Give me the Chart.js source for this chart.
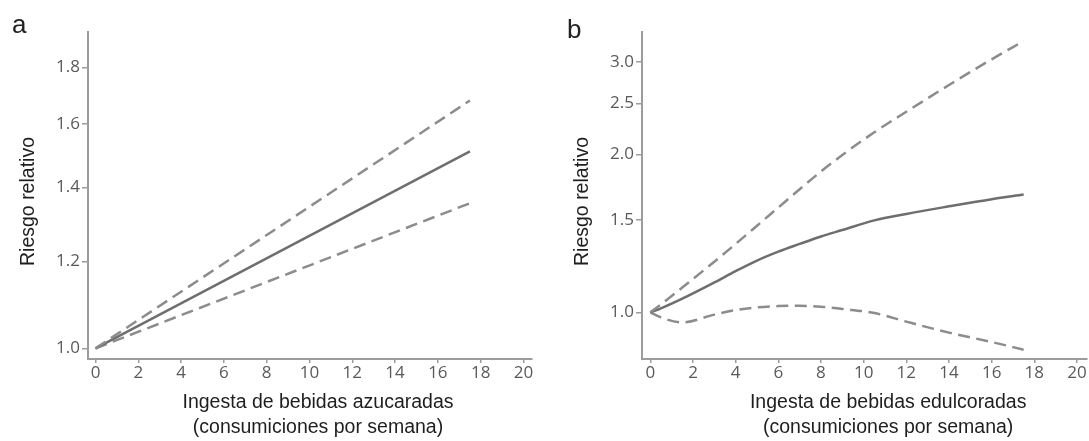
<!DOCTYPE html>
<html>
<head>
<meta charset="utf-8">
<script src="https://cdn.jsdelivr.net/npm/chart.js@4/dist/chart.umd.min.js"></script>
<style>
  html, body { margin: 0; padding: 0; background: #fff; }
  #wrap { position: relative; width: 1089px; height: 441px; overflow: hidden; }
  #chartA { position: absolute; left: 0; top: 0; }
  #chartB { position: absolute; left: 545px; top: 0; }
</style>
</head>
<body>
<div id="wrap">
  <canvas id="chartA" width="545" height="441"></canvas>
  <canvas id="chartB" width="544" height="441"></canvas>
</div>
<script>
// Datos - panel a (bebidas azucaradas)
const xA = [0, 17.5];
const rrA = [1.0, 1.51];
const upperA = [1.0, 1.68];
const lowerA = [1.0, 1.355];

// Datos - panel b (bebidas edulcoradas)
const xB = [0, 0.5, 1.5, 3, 4, 5, 6, 7, 8, 9, 10.5, 12, 14, 16, 17.5];
const rrB = [1.0, 1.018, 1.062, 1.14, 1.198, 1.255, 1.305, 1.35, 1.395, 1.435, 1.497, 1.54, 1.592, 1.643, 1.677];
const upperB = [1.0, 1.036, 1.115, 1.249, 1.35, 1.462, 1.584, 1.716, 1.855, 1.994, 2.203, 2.411, 2.71, 3.034, 3.287];
const lowerB = [1.0, 0.978, 0.957, 0.99, 1.01, 1.022, 1.028, 1.029, 1.025, 1.015, 0.997, 0.96, 0.915, 0.878, 0.849];

// Ticks
const xTicks = [0, 2, 4, 6, 8, 10, 12, 14, 16, 18, 20];
const yTicksA = [1.0, 1.2, 1.4, 1.6, 1.8];
const yTicksB = [1.0, 1.5, 2.0, 2.5, 3.0];

const yTitle = 'Riesgo relativo';
const xTitleA = ['Ingesta de bebidas azucaradas', '(consumiciones por semana)'];
const xTitleB = ['Ingesta de bebidas edulcoradas', '(consumiciones por semana)'];

const toPoints = (xs, ys) => xs.map((x, i) => ({ x: x, y: ys[i] }));

const solidColor = '#6e6e6e';
const dashColor = '#8c8c8c';
const axisColor = '#9c9c9c';
const tickColor = '#5a5a5a';

Chart.defaults.font.family = '"Open Sans", sans-serif';
Chart.defaults.font.size = 17;

function makeDatasets(xs, rr, up, lo, curved) {
  const base = {
    pointRadius: 0,
    borderWidth: 2.5,
    fill: false,
    cubicInterpolationMode: curved ? 'monotone' : 'default'
  };
  return [
    Object.assign({}, base, { data: toPoints(xs, up), borderColor: dashColor, borderDash: [12, 6.5] }),
    Object.assign({}, base, { data: toPoints(xs, rr), borderColor: solidColor }),
    Object.assign({}, base, { data: toPoints(xs, lo), borderColor: dashColor, borderDash: [12, 6.5] })
  ];
}

// títulos de ejes y letra del panel
const titlesPlugin = {
  id: 'titles',
  afterDraw(chart, args, opts) {
    const ctx = chart.ctx;
    const area = chart.chartArea;
    const xs = chart.scales.x;
    ctx.save();
    ctx.fillStyle = '#1e1e1e';
    ctx.font = '19.5px "Liberation Sans", Arial, sans-serif';
    ctx.textAlign = 'center';
    ctx.textBaseline = 'middle';
    const cx = xs.getPixelForValue(opts.xCenter);
    opts.xLines.forEach((t, i) => ctx.fillText(t, cx, area.bottom + 44 + i * 25));
    ctx.save();
    ctx.translate(area.left - 59, (area.top + area.bottom) / 2 + 6);
    ctx.rotate(-Math.PI / 2);
    ctx.fillText(opts.yTitle, 0, 0);
    ctx.restore();
    ctx.font = '26px "Liberation Sans", Arial, sans-serif';
    ctx.textAlign = 'left';
    ctx.textBaseline = 'alphabetic';
    ctx.fillStyle = '#222';
    ctx.fillText(opts.letter, opts.letterX, opts.letterY);
    ctx.restore();
  }
};

function makeOptions(cfg) {
  return {
    responsive: false,
    animation: false,
    layout: { padding: { top: 32, right: cfg.padRight, left: 0, bottom: 0 } },
    plugins: {
      legend: { display: false },
      tooltip: { enabled: false },
      titles: cfg.titles
    },
    scales: {
      x: {
        type: 'linear',
        min: cfg.xMin,
        max: cfg.xMax,
        afterBuildTicks: (scale) => { scale.ticks = xTicks.map(v => ({ value: v })); },
        afterFit: (scale) => { scale.height = 82; },
        ticks: { color: tickColor, font: { size: 17 }, padding: 0, maxRotation: 0, autoSkip: false },
        grid: { drawOnChartArea: false, drawTicks: true, tickLength: 4, color: axisColor, lineWidth: 1.5 },
        border: { color: axisColor, width: 2 }
      },
      y: {
        type: 'logarithmic',
        min: cfg.yMin,
        max: cfg.yMax,
        afterBuildTicks: (scale) => { scale.ticks = cfg.yTicks.map(v => ({ value: v })); },
        afterFit: (scale) => { scale.width = cfg.yWidth; },
        ticks: {
          color: tickColor, font: { size: 17 }, padding: 2, autoSkip: false,
          callback: (v) => Number(v).toFixed(1)
        },
        grid: { drawOnChartArea: false, drawTicks: true, tickLength: 6, color: axisColor, lineWidth: 1.5 },
        border: { color: axisColor, width: 2 }
      }
    }
  };
}

const chartA = new Chart(document.getElementById('chartA').getContext('2d'), {
  type: 'line',
  data: { datasets: makeDatasets(xA, rrA, upperA, lowerA, false) },
  options: makeOptions({
    padRight: 13, xMin: -0.35, xMax: 20.4, yMin: 0.978, yMax: 1.939,
    yTicks: yTicksA, yWidth: 88,
    titles: { xLines: xTitleA, xCenter: 10.4, yTitle: yTitle, letter: 'a', letterX: 12, letterY: 33 }
  }),
  plugins: [titlesPlugin]
});

const chartB = new Chart(document.getElementById('chartB').getContext('2d'), {
  type: 'line',
  data: { datasets: makeDatasets(xB, rrB, upperB, lowerB, true) },
  options: makeOptions({
    padRight: 2, xMin: -0.39, xMax: 20.47, yMin: 0.815, yMax: 3.42,
    yTicks: yTicksB, yWidth: 97,
    titles: { xLines: xTitleB, xCenter: 11.15, yTitle: yTitle, letter: 'b', letterX: 22, letterY: 38 }
  }),
  plugins: [titlesPlugin]
});
</script>
</body>
</html>
